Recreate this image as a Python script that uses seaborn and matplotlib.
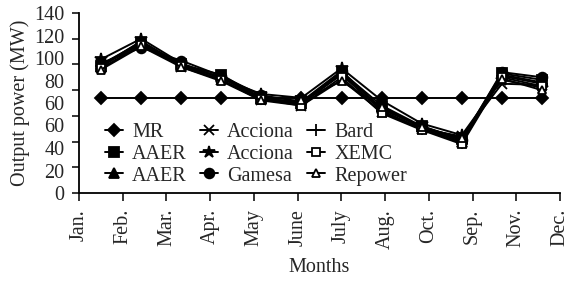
import numpy as np
import pandas as pd
import matplotlib
matplotlib.use("Agg")
import matplotlib.pyplot as plt
import seaborn as sns

months = ["Jan.", "Feb.", "Mar.", "Apr.", "May", "June", "July", "Aug.",
          "Oct.", "Sep.", "Nov.", "Dec."]
y_labels = ["0", "20", "40", "60", "60", "80", "100", "120", "140"]

mr       = [74, 74, 74, 74, 74, 74, 74, 74, 74, 74, 74, 74]
aaer_sq  = [99, 116, 100, 92, 74, 70, 94, 68, 52, 42, 93, 88]
aaer_tri = [98, 118, 99, 90, 73, 69, 93, 66, 51, 40, 92, 86]
acc_x    = [100, 117, 98, 88, 72, 68, 88, 63, 50, 44, 85, 84]
acc_star = [104, 120, 101, 89, 77, 74, 97, 72, 54, 45, 88, 82]
gamesa   = [101, 113, 103, 91, 76, 71, 95, 65, 52, 41, 94, 90]
bard     = [99, 118, 100, 90, 74, 70, 92, 64, 50, 39, 91, 85]
xemc     = [97, 115, 99, 88, 73, 68, 90, 62, 49, 38, 90, 83]
repower  = [96, 114, 98, 87, 72, 72, 87, 67, 51, 43, 89, 80]

series = [
    ("MR", mr, "D", "black", 6),
    ("AAER", aaer_sq, "s", "black", 7),
    ("AAER", aaer_tri, "^", "black", 7),
    ("Acciona", acc_x, "x", "black", 7),
    ("Acciona", acc_star, "*", "black", 9),
    ("Gamesa", gamesa, "o", "black", 7),
    ("Bard", bard, "+", "black", 8),
    ("XEMC", xemc, "s", "white", 6),
    ("Repower", repower, "^", "white", 6),
]

sns.set_style("ticks")
plt.rcParams["font.family"] = ["Liberation Serif", "DejaVu Serif"]
plt.rcParams["font.size"] = 14.5

fig = plt.figure(figsize=(5.69, 2.84), dpi=100)
ax = fig.add_axes([79 / 569, 1 - 193 / 284, (560 - 79) / 569, (193 - 13) / 284])

x = np.arange(len(months))
for name, vals, mk, fc, ms in series:
    sns.lineplot(x=x, y=vals, ax=ax, color="black", linewidth=1.4,
                 marker=mk, markersize=ms, markerfacecolor=fc,
                 markeredgecolor="black", markeredgewidth=1.3,
                 label=name, legend=False)

ax.set_xlim(-0.55, 11.45)
ax.set_ylim(0, 140)
ax.set_xticks(np.linspace(-0.55, 11.45, len(months)))
ax.set_xticklabels(months, rotation=90)
ax.yaxis.remove_overlapping_locs = False
ax.set_yticks(np.arange(0, 141, 20))
ax.set_yticklabels([])
ax.set_yticks(np.linspace(0, 140, len(y_labels)), y_labels, minor=True)
ax.tick_params(axis="y", which="minor", length=0, pad=10.5, labelsize=14.5)
ax.tick_params(axis="y", which="major", length=5, width=1.3, direction="out")
ax.tick_params(axis="x", which="major", length=6, width=1.3, direction="out",
               pad=5.5, labelsize=14.5)
for s in ["top", "right"]:
    ax.spines[s].set_visible(False)
for s in ["left", "bottom"]:
    ax.spines[s].set_linewidth(1.3)
    ax.spines[s].set_color("black")

ax.set_xlabel("Months", fontsize=14.5, labelpad=7)
ax.set_ylabel("Output power (MW)", fontsize=14.5, labelpad=3)

h, l = ax.get_legend_handles_labels()
leg = ax.legend(h, l, ncol=3, frameon=False, loc="upper left",
                bbox_to_anchor=(105 / 569, 1 - 123 / 284),
                bbox_transform=fig.transFigure,
                handlelength=0.9, handletextpad=0.45, columnspacing=0.65,
                labelspacing=0.13, borderaxespad=0, borderpad=0, fontsize=14.5)

fig.savefig("out.png", dpi=100)
